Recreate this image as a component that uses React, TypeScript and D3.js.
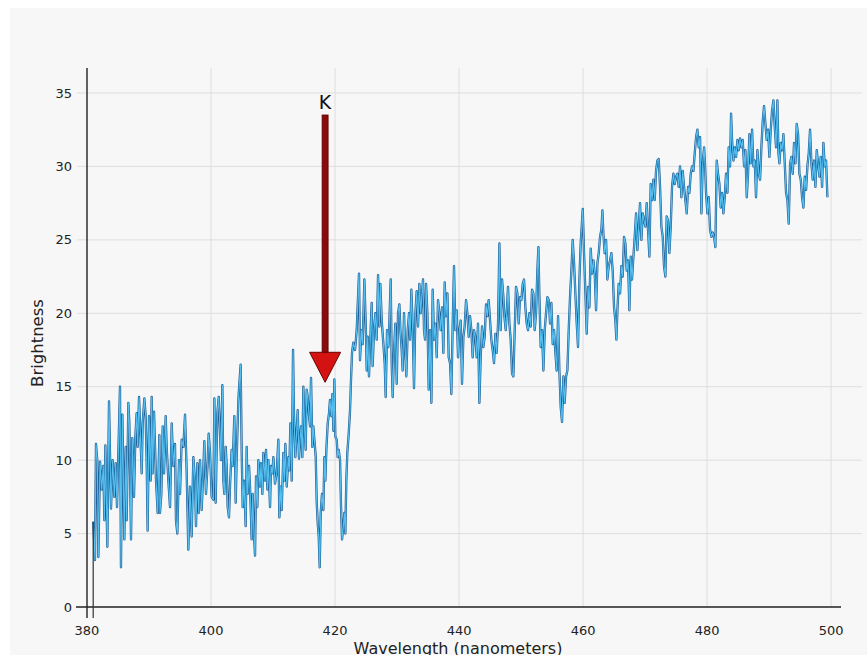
import React from "react";
import * as d3 from "d3";

// spectrum readings [wavelength nm, brightness], grouped by stretch of the plot
const spec380: [number, number][] = [
  [381.0, 5.8], [381.29, 3.2], [381.45, 11.1], [381.67, 9.9], [381.83, 3.4], [382.1, 9.9],
  [382.37, 8.0], [382.63, 9.6], [382.8, 5.9], [382.96, 11.0], [383.28, 4.1], [383.55, 14.0],
  [383.87, 6.7], [384.14, 10.0], [384.41, 7.5], [384.62, 9.8], [384.84, 6.8], [385.32, 15.0],
  [385.48, 2.7], [385.7, 13.1], [386.02, 4.6], [386.24, 10.9], [386.4, 5.9], [386.67, 13.9],
  [386.83, 12.5], [387.1, 4.6], [387.31, 11.5], [387.58, 7.5], [387.8, 11.6], [388.01, 13.2],
  [388.17, 10.9], [388.39, 14.3], [388.55, 12.5], [388.82, 9.1], [388.98, 12.5], [389.25, 14.2],
  [389.46, 13.0], [389.62, 10.0], [389.78, 5.2], [390.0, 13.0], [390.27, 8.6], [390.43, 14.3],
  [390.59, 9.1], [390.81, 13.3], [391.13, 8.6], [391.4, 6.4], [391.67, 11.7], [391.77, 6.4],
  [391.99, 7.7], [392.21, 12.3], [392.42, 9.1], [392.69, 13.0], [392.85, 10.9], [393.12, 8.6],
  [393.39, 6.8], [393.66, 12.5], [393.92, 9.6], [394.19, 11.1], [394.35, 5.9], [394.57, 5.0],
  [394.84, 10.0], [395.0, 7.7], [395.27, 11.4], [395.54, 10.9], [395.81, 13.1], [396.08, 9.1],
  [396.34, 3.9], [396.61, 8.2], [396.88, 4.8], [397.15, 10.2], [397.42, 8.6], [397.58, 5.5],
  [397.8, 9.8], [398.01, 6.4], [398.23, 10.0], [398.49, 6.6], [398.76, 9.3], [398.92, 11.3],
  [399.19, 7.7], [399.46, 9.8], [399.62, 11.8], [399.84, 10.5], [400.11, 7.5], [400.38, 7.3],
  [400.54, 14.2], [400.75, 7.1], [401.02, 13.2], [401.24, 14.3],
];

const spec401: [number, number][] = [
  [401.61, 10.0], [401.83, 15.1], [401.99, 8.6], [402.15, 7.7], [402.37, 10.9], [402.53, 9.6],
  [402.69, 6.8], [402.9, 6.1], [403.06, 8.2], [403.33, 10.7], [403.49, 9.6], [403.76, 13.0],
  [403.98, 7.1], [404.14, 10.2], [404.41, 14.1], [404.57, 15.2], [404.78, 16.5], [404.95, 10.5],
  [405.11, 6.8], [405.32, 8.6], [405.59, 5.5], [405.75, 10.9], [405.91, 7.7], [406.13, 9.6],
  [406.29, 8.2], [406.56, 4.6], [406.72, 7.7], [406.94, 4.8], [407.1, 3.5], [407.26, 8.9],
  [407.47, 6.8], [407.63, 10.0], [407.9, 8.2], [408.06, 9.8], [408.28, 7.7], [408.44, 10.5],
  [408.71, 8.6], [408.87, 10.7], [409.09, 8.0], [409.25, 10.0], [409.52, 6.8], [409.68, 9.6],
  [409.89, 9.1], [410.05, 10.2], [410.32, 8.4], [410.59, 9.1], [410.86, 11.4], [411.02, 6.1],
  [411.24, 8.2], [411.4, 6.6], [411.67, 10.5], [411.83, 8.6], [411.99, 11.1], [412.21, 8.2],
  [412.47, 10.2], [412.63, 9.3], [412.8, 12.5], [413.02, 8.6], [413.23, 17.5],
];

const spec413: [number, number][] = [
  [413.39, 13.0], [413.6, 10.2], [413.82, 12.0], [413.98, 13.4], [414.19, 10.1], [414.35, 11.4],
  [414.52, 12.3], [414.73, 10.2], [414.89, 15.0], [415.11, 12.0], [415.27, 10.7], [415.43, 14.8],
  [415.59, 14.3], [415.81, 13.0], [415.97, 12.3], [416.13, 15.6], [416.34, 10.9], [416.5, 12.3],
  [416.73, 11.1], [416.89, 10.2], [417.05, 7.1], [417.21, 5.7], [417.37, 4.8], [417.53, 2.7],
  [417.69, 6.4], [417.9, 7.7], [418.12, 6.6], [418.28, 10.2], [418.44, 8.6], [418.6, 10.7],
  [418.82, 12.5], [419.03, 13.2], [419.19, 14.1], [419.41, 13.0], [419.57, 14.5], [419.73, 12.0],
  [419.89, 15.5], [420.05, 11.6], [420.27, 11.4], [420.43, 10.2], [420.59, 10.7], [420.81, 10.0],
  [420.97, 6.8], [421.13, 4.6], [421.34, 5.5], [421.5, 6.4], [421.66, 5.0], [421.82, 8.6],
  [421.98, 10.5], [422.21, 11.8], [422.42, 13.4], [422.58, 15.5], [422.74, 17.3], [422.95, 18.0],
  [423.23, 17.5], [423.5, 18.9],
];

const spec423: [number, number][] = [
  [423.6, 20.0], [423.87, 22.7], [424.03, 16.8], [424.25, 18.85], [424.46, 17.9], [424.73, 22.3],
  [424.95, 19.3], [425.11, 16.1], [425.27, 18.4], [425.48, 15.7], [425.64, 17.7], [425.91, 20.7],
  [426.07, 16.4], [426.29, 18.85], [426.5, 20.0], [426.72, 18.2], [426.94, 22.6], [427.15, 19.1],
  [427.31, 22.0], [427.53, 19.5], [427.8, 17.9], [428.01, 16.6], [428.17, 14.3], [428.39, 18.85],
  [428.6, 17.7], [428.76, 19.3], [428.98, 22.3], [429.14, 16.6], [429.3, 14.3], [429.52, 17.5],
  [429.73, 19.3], [429.95, 15.2], [430.16, 20.0], [430.38, 20.6], [430.54, 18.85], [430.75, 17.5],
  [430.91, 16.1], [431.13, 20.0], [431.29, 17.7], [431.5, 15.7], [431.72, 18.85], [431.94, 20.0],
  [432.1, 18.2], [432.31, 21.6], [432.53, 18.85], [432.74, 14.9], [432.96, 20.0], [433.17, 21.5],
  [433.39, 19.1], [433.6, 22.0], [433.82, 20.0], [433.98, 21.1], [434.19, 22.3], [434.35, 18.85],
  [434.52, 18.2], [434.68, 22.0], [434.89, 20.0], [435.11, 14.8], [435.32, 18.85], [435.54, 13.9],
  [435.75, 21.6], [435.97, 18.2], [436.18, 19.3], [436.4, 17.0], [436.61, 20.9], [436.83, 20.0],
  [437.04, 18.85], [437.26, 20.4], [437.47, 17.3], [437.69, 22.1], [437.9, 19.8], [438.12, 21.35],
  [438.33, 17.0], [438.55, 16.6], [438.76, 14.5], [438.98, 19.3], [439.19, 23.2], [439.41, 18.85],
  [439.62, 20.2], [439.84, 17.0], [440.05, 18.85], [440.27, 19.5], [440.48, 15.2], [440.7, 18.4],
  [440.91, 19.1], [441.13, 20.9], [441.34, 20.0], [441.56, 18.4], [441.77, 19.8], [441.99, 18.85],
  [442.2, 17.0], [442.42, 18.85], [442.63, 18.4], [442.85, 17.0], [443.06, 19.3], [443.28, 13.9],
  [443.49, 17.0], [443.71, 19.1], [443.92, 17.7], [444.14, 18.4], [444.35, 20.6], [444.57, 19.8],
  [444.78, 20.9], [445.0, 19.5], [445.21, 18.2], [445.43, 17.5], [445.64, 16.6], [445.86, 18.6],
  [446.07, 17.3], [446.29, 19.3], [446.51, 24.75],
];

const spec446: [number, number][] = [
  [446.72, 18.85], [446.94, 22.3], [447.15, 21.1], [447.31, 19.8], [447.53, 18.85], [447.69, 20.0],
  [447.9, 21.8], [448.12, 19.3], [448.33, 18.2], [448.55, 15.9], [448.76, 15.7], [448.98, 18.85],
  [449.19, 21.8], [449.41, 21.35], [449.62, 19.3], [449.84, 21.1], [450.05, 20.9], [450.27, 22.0],
  [450.48, 22.3], [450.7, 20.4], [450.91, 19.3], [451.13, 18.85], [451.34, 20.0], [451.56, 19.1],
  [451.77, 21.6], [451.99, 21.35], [452.2, 18.85], [452.42, 20.0], [452.63, 22.9], [452.8, 24.5],
  [452.96, 21.1], [453.17, 17.7], [453.39, 18.85], [453.6, 16.1], [453.82, 18.85], [454.03, 20.0],
  [454.25, 21.1], [454.46, 20.9], [454.68, 19.3], [454.89, 20.7], [455.11, 17.9], [455.32, 18.85],
  [455.54, 17.3], [455.75, 16.1], [455.97, 19.8], [456.18, 16.1], [456.4, 13.6], [456.61, 12.6],
  [456.83, 15.7], [457.04, 13.9], [457.26, 15.7], [457.47, 16.1], [457.69, 18.85], [457.9, 21.1],
  [458.12, 22.9], [458.33, 25.0], [458.55, 23.4], [458.76, 21.35], [458.98, 19.3], [459.19, 17.7],
  [459.41, 22.3], [459.62, 24.75],
];

const spec460: [number, number][] = [
  [459.95, 27.1], [460.16, 24.1], [460.38, 21.35], [460.59, 18.6], [460.81, 21.8], [461.02, 20.4],
  [461.24, 24.4], [461.45, 22.7], [461.67, 23.6], [461.88, 22.7], [462.1, 20.2], [462.31, 23.4],
  [462.53, 24.1], [462.74, 25.2], [462.96, 25.7], [463.12, 27.0], [463.28, 25.4], [463.49, 24.1],
  [463.71, 25.0], [463.92, 22.3], [464.14, 23.2], [464.35, 23.6], [464.57, 24.1], [464.78, 22.9],
  [465.0, 20.4], [465.21, 19.5], [465.38, 18.2], [465.54, 20.2], [465.75, 22.0], [465.97, 21.35],
  [466.18, 23.2], [466.4, 22.5], [466.61, 25.2], [466.83, 24.75], [467.04, 22.9], [467.26, 23.6],
  [467.47, 20.2], [467.69, 23.85], [467.9, 22.3], [468.12, 23.85], [468.33, 25.2], [468.55, 26.8],
  [468.76, 24.3], [468.98, 25.9], [469.19, 27.5], [469.41, 25.0], [469.62, 26.8], [469.84, 26.3],
  [470.05, 25.9], [470.27, 27.5], [470.48, 25.7], [470.7, 23.85], [470.91, 28.8], [471.13, 27.7],
  [471.34, 29.1], [471.56, 27.7], [471.77, 29.7], [471.99, 30.4], [472.2, 30.5], [472.42, 28.6],
  [472.63, 25.9], [472.85, 25.2], [473.06, 23.2], [473.28, 22.5], [473.49, 26.6], [473.71, 26.3],
  [473.92, 24.1], [474.14, 25.9], [474.35, 28.6], [474.57, 29.5], [474.78, 28.8], [475.0, 29.3],
  [475.21, 29.5], [475.43, 28.6], [475.64, 30.0], [475.86, 27.9], [476.07, 29.7], [476.29, 28.6],
  [476.5, 27.7], [476.72, 26.8], [476.94, 28.6], [477.15, 28.2], [477.37, 29.5], [477.58, 30.0],
  [477.8, 29.7], [478.01, 30.9], [478.23, 32.0], [478.44, 32.5], [478.66, 31.3],
];

const spec479: [number, number][] = [
  [478.87, 32.0], [479.09, 26.8], [479.3, 30.2], [479.52, 31.3], [479.68, 30.0], [479.84, 28.2],
  [480.05, 26.8], [480.27, 27.9], [480.48, 25.7], [480.7, 25.2], [480.91, 25.5], [481.13, 25.2],
  [481.34, 24.5], [481.56, 30.4], [481.77, 29.5], [481.99, 28.8], [482.2, 27.2], [482.42, 28.2],
  [482.63, 26.8], [482.85, 27.9], [483.06, 29.5], [483.28, 28.2], [483.49, 31.3], [483.71, 30.0],
  [483.87, 33.6], [484.03, 31.8], [484.25, 30.4], [484.46, 31.3], [484.68, 30.65], [484.89, 31.8],
  [485.11, 31.1], [485.32, 31.9], [485.54, 31.3], [485.75, 31.8], [485.97, 30.0], [486.18, 31.1],
  [486.4, 27.9], [486.61, 29.5], [486.83, 32.2], [487.04, 30.2], [487.26, 32.5], [487.47, 30.0],
  [487.69, 30.4], [487.9, 27.9], [488.12, 31.1], [488.33, 29.5], [488.55, 29.1], [488.76, 31.3],
  [488.98, 33.1], [489.19, 34.1], [489.41, 32.9], [489.62, 31.8], [489.84, 32.5], [490.05, 30.65],
  [490.27, 32.5], [490.48, 33.8], [490.7, 34.5], [490.91, 32.7], [491.13, 31.3], [491.34, 34.5],
  [491.51, 30.9], [491.67, 30.2], [491.88, 31.6], [492.1, 31.1], [492.31, 32.2], [492.53, 30.2],
  [492.74, 28.2], [492.96, 27.7], [493.17, 26.1], [493.39, 30.2], [493.6, 30.65], [493.82, 29.5],
  [494.03, 31.6], [494.25, 30.2], [494.46, 32.9], [494.68, 32.2], [494.89, 29.5], [495.11, 29.1],
  [495.32, 27.9], [495.54, 27.2], [495.75, 29.3], [495.97, 28.4], [496.18, 30.0], [496.4, 30.9],
  [496.61, 32.5], [496.83, 30.2], [497.04, 29.1], [497.26, 30.4], [497.47, 28.6], [497.69, 31.1],
  [497.9, 30.2], [498.12, 29.3], [498.33, 30.65], [498.55, 28.6], [498.76, 31.6], [498.98, 30.0],
  [499.19, 30.4], [499.41, 27.9],
];

const xTicks = [380, 400, 420, 440, 460, 480, 500];
const yTicks = [0, 5, 10, 15, 20, 25, 30, 35];

// K line marker: wavelength, arrow from/to brightness
const kLine = { label: "K", wavelength: 418.4, from: 33.5, to: 15.3 };

const W = 867;
const H = 655;
const font = "'DejaVu Sans', Verdana, sans-serif";

export default function App() {
  const spectrum = [
    ...spec380, ...spec401, ...spec413, ...spec423,
    ...spec446, ...spec460, ...spec479,
  ];

  const x = d3.scaleLinear().domain([380, 501.6]).range([87, 841]);
  const y = d3.scaleLinear().domain([0, 36.7]).range([607, 68]);

  const line = d3
    .line<[number, number]>()
    .x((d) => x(d[0]))
    .y((d) => y(d[1]));
  const path = line(spectrum) ?? "";

  const kx = x(kLine.wavelength);
  const headTop = y(kLine.to) - 30;

  return (
    <svg
      width={W}
      height={H}
      style={{ position: "absolute", left: 0, top: 0, background: "#fff" }}
    >
      <rect x={10} y={8} width={W - 10} height={H - 8} fill="#f7f7f7" />

      {/* grid */}
      <g stroke="#dedede" strokeWidth={1}>
        {xTicks.slice(1).map((t) => (
          <line key={t} x1={x(t)} x2={x(t)} y1={y(36.7)} y2={y(0)} />
        ))}
        {yTicks.slice(1).map((t) => (
          <line key={t} x1={77} x2={862} y1={y(t)} y2={y(t)} />
        ))}
      </g>

      {/* spectrum: dark edge under a light core */}
      <path
        d={path}
        fill="none"
        stroke="#1b5c95"
        strokeWidth={2.3}
        strokeLinejoin="round"
      />
      <path
        d={path}
        fill="none"
        stroke="#55c0f0"
        strokeWidth={1.1}
        strokeLinejoin="round"
      />

      {/* axes */}
      <line x1={x(380)} x2={x(380)} y1={y(36.7)} y2={618} stroke="#222" strokeWidth={1.4} />
      <line x1={76} x2={x(501.6)} y1={y(0)} y2={y(0)} stroke="#222" strokeWidth={1.4} />
      <line
        x1={x(spec380[0][0])}
        x2={x(spec380[0][0])}
        y1={y(spec380[0][1])}
        y2={618}
        stroke="#333"
        strokeWidth={1.2}
      />

      <g fontFamily={font} fontSize={13} fill="#222">
        {yTicks.map((t) => (
          <text key={t} x={72} y={y(t)} dy="0.35em" textAnchor="end">
            {t}
          </text>
        ))}
        {xTicks.map((t) => (
          <text key={t} x={x(t)} y={635} textAnchor="middle">
            {t}
          </text>
        ))}
      </g>

      <text
        x={458}
        y={654}
        textAnchor="middle"
        fontFamily={font}
        fontSize={16}
        fill="#222"
      >
        Wavelength (nanometers)
      </text>
      <text
        transform={`translate(43,343) rotate(-90)`}
        textAnchor="middle"
        fontFamily={font}
        fontSize={16.5}
        fill="#222"
      >
        Brightness
      </text>

      {/* K marker arrow */}
      <rect
        x={kx - 3}
        y={y(kLine.from)}
        width={6}
        height={headTop - y(kLine.from) + 2}
        fill="#8c0a0a"
        stroke="#5a0000"
        strokeWidth={0.8}
      />
      <path
        d={`M${kx - 15.5},${headTop} L${kx + 15.5},${headTop} L${kx},${y(kLine.to)} Z`}
        fill="#d41212"
        stroke="#6a0000"
        strokeWidth={1}
        strokeLinejoin="round"
      />
      <text
        x={kx}
        y={y(kLine.from) - 6}
        textAnchor="middle"
        fontFamily={font}
        fontSize={19}
        fill="#111"
      >
        {kLine.label}
      </text>
    </svg>
  );
}
